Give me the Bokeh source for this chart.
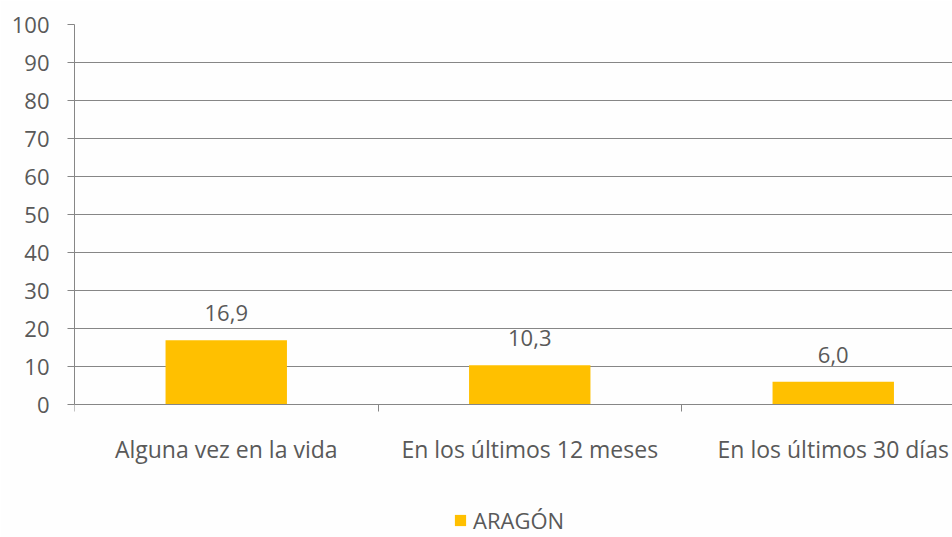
from bokeh.plotting import figure
from bokeh.models import ColumnDataSource, FixedTicker, Range1d, Legend, LegendItem, LabelSet
from bokeh.core.properties import value
from bokeh.embed import file_html
from bokeh.resources import INLINE

categories = ["Alguna vez en la vida", "En los últimos 12 meses", "En los últimos 30 días"]
values = [16.9, 10.3, 6.0]
value_labels = ["16,9", "10,3", "6,0"]
series_name = "ARAGÓN"
y_ticks = [0, 10, 20, 30, 40, 50, 60, 70, 80, 90, 100]

FONT = "Open Sans"
TXT = "#595959"
GRID = "#868686"
BAR = "#FFC000"

xs = [i + 0.5 for i in range(len(categories))]
src = ColumnDataSource(dict(x=xs, top=values, lab=value_labels))

p = figure(frame_width=878, frame_height=513, output_backend="svg", toolbar_location=None,
           x_range=Range1d(0, 878 / 303.5), y_range=Range1d(-133 / 3.8, 100),
           min_border_left=74, min_border_right=0, min_border_top=24, min_border_bottom=0)
p.outline_line_color = None
p.background_fill_color = "#FEFEFE"
p.border_fill_color = "#FEFEFE"

r = p.vbar(x="x", top="top", width=0.4, source=src, fill_color=BAR, line_color=None)
labels = LabelSet(x="x", y="top", text="lab", source=src, text_align="center",
                  text_baseline="middle", y_offset=27, text_font=value(FONT),
                  text_font_size="22px", text_color=TXT)
p.add_layout(labels)

p.yaxis.ticker = FixedTicker(ticks=y_ticks)
p.yaxis.bounds = (0, 100)
p.yaxis.axis_line_color = GRID
p.yaxis.major_tick_line_color = GRID
p.yaxis.major_tick_out = 7
p.yaxis.major_tick_in = 0
p.yaxis.minor_tick_line_color = None
p.yaxis.major_label_text_font = FONT
p.yaxis.major_label_text_font_size = "22px"
p.yaxis.major_label_text_color = TXT
p.yaxis.major_label_standoff = 18

p.xaxis.fixed_location = 0
p.xaxis.ticker = FixedTicker(ticks=xs, minor_ticks=[0, 1, 2, 3])
p.xaxis.major_label_overrides = {x: c for x, c in zip(xs, categories)}
p.xaxis.axis_line_color = GRID
p.xaxis.major_tick_line_color = None
p.xaxis.minor_tick_line_color = GRID
p.xaxis.minor_tick_out = 7
p.xaxis.minor_tick_in = 0
p.xaxis.major_tick_out = 7
p.xaxis.major_label_text_font = FONT
p.xaxis.major_label_text_font_size = "23px"
p.xaxis.major_label_text_color = TXT
p.xaxis.major_label_standoff = 21

p.xgrid.grid_line_color = None
p.ygrid.ticker = FixedTicker(ticks=y_ticks)
p.ygrid.grid_line_color = GRID
p.ygrid.grid_line_width = 1

legend = Legend(items=[LegendItem(label=series_name, renderers=[r])],
                orientation="horizontal", location=(379, 2),
                label_text_font=FONT, label_text_font_size="22px", label_text_color=TXT,
                border_line_color=None, background_fill_alpha=0,
                glyph_width=14, glyph_height=14, label_standoff=6, margin=0, padding=0)
p.add_layout(legend, "center")

open("out.html", "w").write(file_html(p, INLINE))
